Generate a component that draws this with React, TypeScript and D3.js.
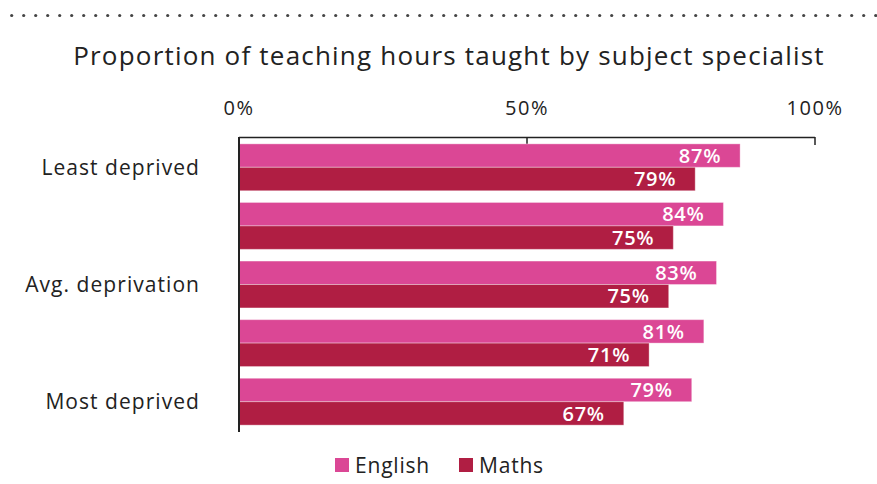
import React from "react";
import * as d3 from "d3";

const categories = ["Least deprived", "", "Avg. deprivation", "", "Most deprived"];
const english = [87.0, 84.1, 82.9, 80.7, 78.6];
const maths = [79.2, 75.4, 74.6, 71.2, 66.8];
const ticks = [0, 50, 100];
const seriesNames = ["English", "Maths"];
const colors = ["#DB4795", "#B01E43"];

const W = 877;
const H = 484;
const FONT = "'Open Sans', sans-serif";

export default function App() {
  const x = d3.scaleLinear().domain([0, 100]).range([239, 815]);
  const idx = categories.map((_, i) => String(i));
  const y = d3.scaleBand().domain(idx).range([138, 431]).paddingInner(0.2).paddingOuter(0.1);
  const sub = d3.scaleBand().domain(seriesNames).range([0, y.bandwidth()]);
  const dots = d3.range(11.7, W, 12);
  return (
    <svg width={W} height={H} style={{ position: "absolute", left: 0, top: 0, background: "#fff" }} fontFamily={FONT}>
      {dots.map((d, i) => (
        <circle key={i} cx={d} cy={15.5} r={1.6} fill="#444" />
      ))}
      <text x={449} y={65} textAnchor="middle" fontSize={26} letterSpacing={1.2} fill="#222">
        Proportion of teaching hours taught by subject specialist
      </text>
      {ticks.map((t) => (
        <g key={t}>
          <text x={x(t)} y={115} textAnchor="middle" fontSize={20} letterSpacing={1.5} fill="#222">{t}%</text>
          <line x1={x(t)} x2={x(t)} y1={137} y2={145} stroke="#222" strokeWidth={1.5} />
        </g>
      ))}
      <line x1={x(0)} x2={x(100)} y1={137.5} y2={137.5} stroke="#222" strokeWidth={1.5} />
      {categories.map((c, i) => {
        const y0 = y(String(i))!;
        const vals = [english[i], maths[i]];
        return (
          <g key={i}>
            {vals.map((v, j) => {
              const by = y0 + sub(seriesNames[j])!;
              return (
                <g key={j}>
                  <rect x={x(0)} y={by} width={x(v) - x(0)} height={sub.bandwidth()} fill={colors[j]} stroke="rgba(255,255,255,0.35)" strokeWidth={1} />
                  <text x={x(v) - 19} y={by + sub.bandwidth() / 2} dy="0.36em" textAnchor="end" fontSize={20} letterSpacing={0.7} fontWeight={600} fill="#fff">
                    {Math.round(v)}%
                  </text>
                </g>
              );
            })}
            {c && (
              <text x={200} y={y0 + y.bandwidth() / 2} dy="0.36em" textAnchor="end" fontSize={21} letterSpacing={1.05} fill="#222">
                {c}
              </text>
            )}
          </g>
        );
      })}
      <line x1={x(0)} x2={x(0)} y1={137} y2={432} stroke="#222" strokeWidth={2} />
      {seriesNames.map((s, j) => {
        const lx = [335, 459][j];
        return (
          <g key={s}>
            <rect x={lx} y={458} width={14} height={14} fill={colors[j]} />
            <text x={lx + 20} y={465} dy="0.36em" fontSize={21} letterSpacing={0.8} fill="#222">{s}</text>
          </g>
        );
      })}
    </svg>
  );
}
